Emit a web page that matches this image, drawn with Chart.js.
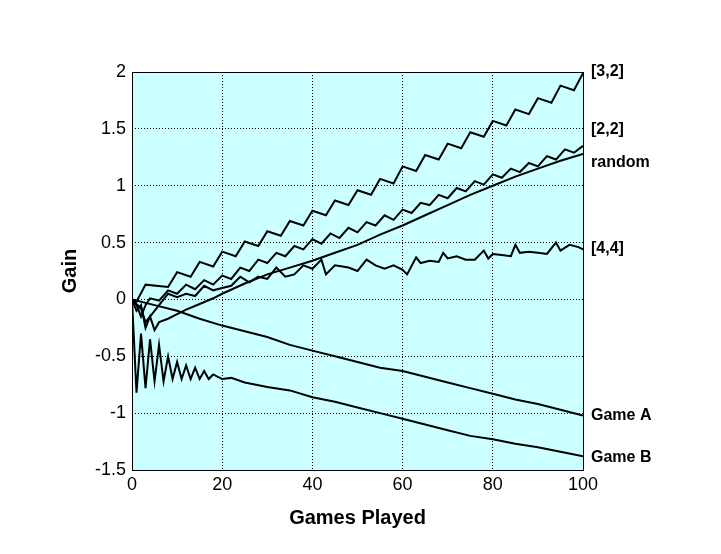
<!DOCTYPE html>
<html><head><meta charset="utf-8">
<script src="https://cdn.jsdelivr.net/npm/chart.js@4/dist/chart.umd.min.js"></script>
<style>html,body{margin:0;padding:0;background:#fff}#w{width:721px;height:554px}</style>
</head><body><div id="w"><canvas id="c"></canvas></div>
<script>
const xTicks=[0,20,40,60,80,100];
const yTicks=[-1.5,-1,-0.5,0,0.5,1,1.5,2];
const s32x=[0,1,3,8,10,13,15,18,20,23,25,28,30,33,35,38,40,43,45,48,50,53,55,58,60,63,65,68,70,73,75,78,80,83,85,88,90,93,95,98,100];
const s32y=[0,-0.02,0.13,0.11,0.24,0.2,0.33,0.29,0.42,0.38,0.51,0.47,0.6,0.56,0.69,0.65,0.78,0.74,0.87,0.83,0.96,0.92,1.06,1.02,1.17,1.13,1.27,1.23,1.37,1.33,1.47,1.43,1.57,1.53,1.67,1.63,1.77,1.73,1.88,1.84,1.99];
const s22x=[0,1,2,3,4,6,8,10,12,14,16,18,20,22,24,26,28,30,32,34,36,38,40,42,44,46,48,50,52,54,56,58,60,62,64,66,68,70,72,74,76,78,80,82,84,86,88,90,92,94,96,98,100];
const s22y=[0,-0.05,-0.15,-0.05,0.01,-0.01,0.08,0.05,0.13,0.09,0.17,0.13,0.21,0.18,0.28,0.25,0.35,0.32,0.41,0.38,0.47,0.44,0.53,0.49,0.58,0.54,0.63,0.59,0.68,0.65,0.74,0.70,0.79,0.76,0.85,0.83,0.92,0.89,0.98,0.95,1.04,1.01,1.10,1.07,1.15,1.12,1.20,1.17,1.26,1.23,1.32,1.29,1.35];
const rndx=[0,1,2,3,4,5,6,8,10,12,15,18,20,25,30,35,40,45,50,55,60,65,70,75,80,85,90,95,100];
const rndy=[0,-0.1,-0.05,-0.25,-0.15,-0.27,-0.2,-0.17,-0.13,-0.09,-0.04,0.01,0.05,0.14,0.22,0.28,0.34,0.41,0.48,0.57,0.65,0.74,0.83,0.92,1.0,1.08,1.15,1.22,1.28];
const s44x=[0,2,3,5,7,8,10,12,14,16,18,20,22,24,26,28,30,32,34,36,38,40,42,43,45,48,50,52,54,56,58,60,61,63,64,66,68,69,70,72,74,76,78,79,80,82,84,85,86,88,90,92,94,95,97,99,100];
const s44y=[0,-0.08,-0.2,-0.1,0,0.05,0.02,0.05,0.03,0.12,0.08,0.1,0.12,0.2,0.15,0.2,0.18,0.28,0.2,0.22,0.3,0.27,0.35,0.22,0.3,0.28,0.25,0.35,0.3,0.27,0.3,0.26,0.22,0.37,0.32,0.34,0.33,0.41,0.36,0.38,0.35,0.35,0.43,0.36,0.4,0.39,0.38,0.48,0.41,0.42,0.41,0.4,0.5,0.43,0.48,0.46,0.44];
const gAx=[0,5,10,15,20,25,30,35,40,45,50,55,60,65,70,75,80,85,90,95,100];
const gAy=[0,-0.05,-0.1,-0.17,-0.23,-0.28,-0.33,-0.4,-0.45,-0.5,-0.55,-0.6,-0.63,-0.68,-0.73,-0.78,-0.83,-0.88,-0.92,-0.97,-1.02];
const gBx=[0,1,2,3,4,5,6,7,8,9,10,11,12,13,14,15,16,17,18,20,22,25,30,35,40,45,50,55,60,65,70,75,80,85,90,95,100];
const gBy=[0,-0.82,-0.3,-0.78,-0.35,-0.72,-0.4,-0.72,-0.5,-0.7,-0.55,-0.7,-0.58,-0.7,-0.6,-0.7,-0.63,-0.7,-0.66,-0.7,-0.69,-0.73,-0.77,-0.8,-0.86,-0.9,-0.95,-1.0,-1.05,-1.1,-1.15,-1.2,-1.23,-1.27,-1.3,-1.34,-1.38];
const labels=['[3,2]','[2,2]','random','[4,4]','Game A','Game B'];
const labelY=[2.0,1.49,1.2,0.45,-1.02,-1.39];
const series=[[s32x,s32y],[s22x,s22y],[rndx,rndy],[s44x,s44y],[gAx,gAy],[gBx,gBy]];
const pts=(xs,ys)=>xs.map((x,i)=>({x:x,y:ys[i]}));
const F='Arial, "Liberation Sans", sans-serif';
const bgPlug={id:'bg',beforeDraw(ch){const a=ch.chartArea,c=ch.ctx;c.save();c.fillStyle='#ccffff';c.fillRect(a.left,a.top,a.right-a.left,a.bottom-a.top);c.restore();},
afterDraw(ch){const a=ch.chartArea,c=ch.ctx,y=ch.scales.y;c.save();c.strokeStyle='#000';c.lineWidth=1;c.strokeRect(a.left+0.5,a.top+0.5,a.right-a.left,a.bottom-a.top);
c.fillStyle='#000';c.font='bold 16px '+F;c.textBaseline='middle';c.textAlign='left';labels.forEach((t,i)=>c.fillText(t,a.right+8,y.getPixelForValue(labelY[i])));
c.font='bold 20px '+F;c.textAlign='center';c.fillText('Games Played',(a.left+a.right)/2,518);
c.translate(70,(a.top+a.bottom)/2);c.rotate(-Math.PI/2);c.fillText('Gain',0,0);c.restore();}};
new Chart(document.getElementById('c'),{type:'line',
data:{datasets:series.map((s,i)=>({label:labels[i],data:pts(s[0],s[1]),borderColor:'#000',borderWidth:2,pointRadius:0,tension:0,fill:false}))},
options:{responsive:true,maintainAspectRatio:false,animation:false,events:[],
layout:{padding:{left:0,right:138,top:72,bottom:0}},
plugins:{legend:{display:false},tooltip:{enabled:false}},
scales:{
x:{type:'linear',min:0,max:100,afterBuildTicks(s){s.ticks=xTicks.map(v=>({value:v}));},afterFit(s){s.height=84;},
grid:{color:'#000',lineWidth:1,drawTicks:false},border:{display:false,dash:[1,2]},
ticks:{color:'#000',font:{size:18,family:F},padding:4,callback:v=>String(v)}},
y:{type:'linear',min:-1.5,max:2,afterBuildTicks(s){s.ticks=yTicks.map(v=>({value:v}));},afterFit(s){s.width=132;},
grid:{color:'#000',lineWidth:1,drawTicks:false},border:{display:false,dash:[1,2]},
ticks:{color:'#000',font:{size:18,family:F},padding:6,callback:v=>String(v)}}
}},plugins:[bgPlug]});
</script></body></html>
